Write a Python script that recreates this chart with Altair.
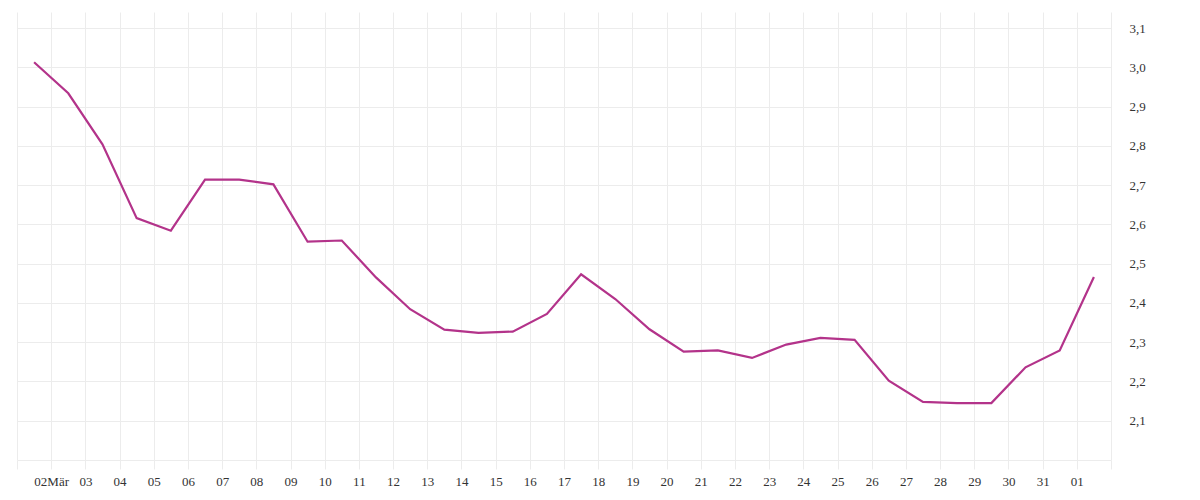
import json
import altair as alt
import pandas as pd

days = [f"2024-03-{d:02d}" for d in range(1, 32)] + ["2024-04-01"]
values = [3.013, 2.934, 2.804, 2.616, 2.584, 2.714, 2.714, 2.702, 2.556, 2.559,
          2.465, 2.384, 2.332, 2.324, 2.327, 2.372, 2.473, 2.410, 2.333, 2.276,
          2.279, 2.260, 2.294, 2.311, 2.306, 2.202, 2.148, 2.145, 2.145, 2.236,
          2.279, 2.466]
tick_labels = ["", "02Mär"] + [f"{d:02d}" for d in range(3, 32)] + ["01", ""]
y_ticks = [2.0, 2.1, 2.2, 2.3, 2.4, 2.5, 2.6, 2.7, 2.8, 2.9, 3.0, 3.1]

df = pd.DataFrame({"date": [d + "T12:00:00Z" for d in days], "value": values})

tick_dates = [alt.DateTime(year=2024, month=3, date=d, utc=True) for d in range(1, 32)] + \
             [alt.DateTime(year=2024, month=4, date=d, utc=True) for d in (1, 2)]
start_ms = int(pd.Timestamp("2024-03-01T00:00:00Z").timestamp() * 1000)
label_expr = f"{json.dumps(tick_labels)}[round((datum.value - {start_ms}) / 86400000)]"

grid_col = "#ececec"
font = "Liberation Serif"

chart = alt.Chart(df).mark_line(color="#b3338a", strokeWidth=2.2).encode(
    x=alt.X("date:T",
            scale=alt.Scale(type="utc",
                            domain=[alt.DateTime(year=2024, month=3, date=1, utc=True),
                                    alt.DateTime(year=2024, month=4, date=2, utc=True)]),
            axis=alt.Axis(values=tick_dates, labelExpr=label_expr, title=None,
                          grid=True, gridColor=grid_col, domain=False,
                          ticks=True, tickColor=grid_col, tickSize=9,
                          labelPadding=6, labelAngle=0, labelFont=font,
                          labelFontSize=13, labelColor="#333333")),
    y=alt.Y("value:Q",
            scale=alt.Scale(domain=[2.0, 3.141], nice=False, zero=False),
            axis=alt.Axis(orient="right", values=y_ticks, title=None,
                          labelExpr="datum.value < 2.05 ? '' : replace(format(datum.value, '.1f'), '.', ',')",
                          grid=True, gridColor=grid_col, domain=False, ticks=False,
                          labelPadding=18, labelFont=font, labelFontSize=13,
                          labelColor="#333333")),
).properties(
    width=1094, height=448,
    padding={"left": 8, "top": 4, "right": 5, "bottom": 5},
).configure_view(stroke="transparent")

chart.save("out.html", embed_options={"renderer": "svg", "actions": False})
